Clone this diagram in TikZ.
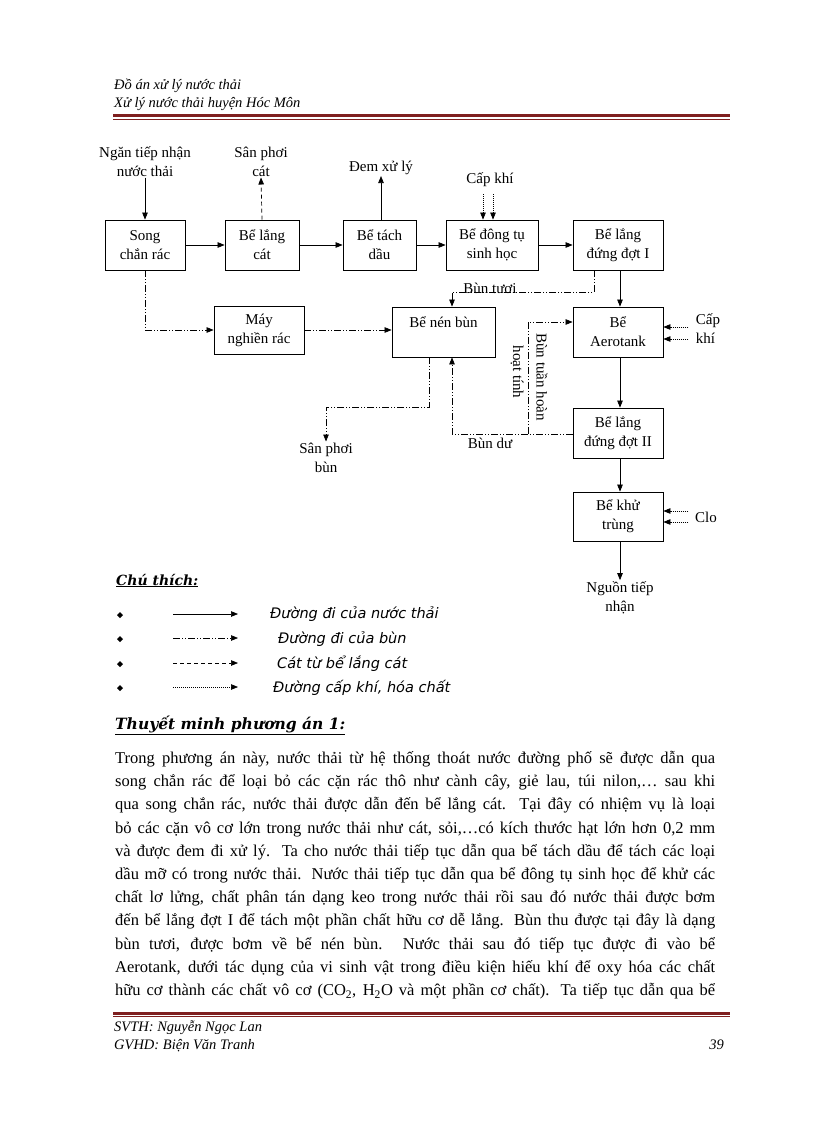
\documentclass[tikz,border=0pt]{standalone}
\usepackage{fontspec}
\setmainfont{Liberation Serif}
\newfontfamily\legfont{DejaVu Sans}
\newfontfamily\titfont{DejaVu Serif}
\usetikzlibrary{arrows.meta}
\definecolor{hdred}{HTML}{7F1F1F}
\newcommand\diagfont{\fontsize{15}{19}\selectfont}
\newcommand\hdfont{\fontsize{14.5}{18}\selectfont\itshape}
\newcommand\bodyfont{\fontsize{16.5}{23.2}\selectfont}
\newcommand\jline[1]{\makebox[600pt][s]{#1}}
\begin{document}
\begin{tikzpicture}[x=1pt,y=-1pt,
 box/.style={draw,line width=0.8pt,align=center,inner sep=0pt,font=\diagfont},
 lbl/.style={align=center,inner sep=1pt,font=\diagfont},
 tip/.style={-{Triangle[length=7pt,width=5.5pt]}},
 water/.style={tip,line width=0.7pt},
 sludge/.style={tip,line width=0.7pt,dash pattern=on 7pt off 2pt on 1pt off 2pt on 1pt off 2pt},
 sand/.style={tip,line width=0.7pt,dash pattern=on 4pt off 3pt},
 air/.style={tip,line width=0.7pt,dash pattern=on 1pt off 1pt},
 legtxt/.style={anchor=base west,inner sep=0pt,font=\fontsize{14.5}{17}\selectfont\legfont\itshape}]
\useasboundingbox (0,0) rectangle (816,1123);
\fill[white] (0,0) rectangle (816,1123);

% header
\node[anchor=base west,inner sep=0pt,font=\hdfont] (h1) at (114,90) {Đồ án xử lý nước thải};
\node[anchor=base west,inner sep=0pt,font=\hdfont] (h2) at (114,108) {Xử lý nước thải huyện Hóc Môn};
\draw[hdred,line width=3pt] (113,116) -- (730,116);
\draw[hdred,line width=0.8pt] (113,119.5) -- (730,119.5);

% boxes
\node[box,minimum width=80pt,minimum height=50pt] (song) at (145,245) {Song\\chắn rác};
\node[box,minimum width=74pt,minimum height=50pt] (lc) at (262,245) {Bể lắng\\cát};
\node[box,minimum width=73pt,minimum height=50pt] (td) at (379.5,245) {Bể tách\\dầu};
\node[box,minimum width=92pt,minimum height=50pt] (dt) at (492,245) {Bể đông tụ\\sinh học};
\node[box,minimum width=90pt,minimum height=50pt] (l1) at (618,245) {Bể lắng\\đứng đợt I};
\node[box,minimum width=90pt,minimum height=48pt] (may) at (259,330) {Máy\\nghiền rác};
\node[box,minimum width=103pt,minimum height=50pt] (nen) at (443.5,332) {Bể nén bùn\\\mbox{}};
\node[box,minimum width=90pt,minimum height=50pt] (aero) at (618,332) {Bể\\Aerotank};
\node[box,minimum width=90pt,minimum height=50pt] (l2) at (618,433) {Bể lắng\\đứng đợt II};
\node[box,minimum width=90pt,minimum height=49pt] (kt) at (618,516.5) {Bể khử\\trùng};

% labels
\node[lbl] (ntn) at (145,161.5) {Ngăn tiếp nhận\\nước thải};
\node[lbl] (spc) at (261,161.5) {Sân phơi\\cát};
\node[lbl] (dxl) at (381,168) {Đem xử lý};
\node[lbl] (ck1) at (490,180) {Cấp khí};
\node[lbl,align=left] (ck2) at (708,329) {Cấp\\khí};
\node[lbl] (clo) at (706,517) {Clo};
\node[lbl] (ngtn) at (620,597.5) {Nguồn tiếp\\nhận};
\node[lbl] (spb) at (326,457.5) {Sân phơi\\bùn};
\node[lbl] (btuoi) at (490,288) {Bùn tươi};
\node[lbl] (bdu) at (490,443) {Bùn dư};
\node[lbl,rotate=-90] (bth) at (542,377) {Bùn tuần hoàn};
\node[lbl,rotate=-90] (htinh) at (517,372) {hoạt tính};

% water path
\draw[water] (ntn.south) -- (song.north);
\draw[water] (song.east) -- (lc.west);
\draw[water] (lc.east) -- (td.west);
\draw[water] (td.east) -- (dt.west);
\draw[water] (dt.east) -- (l1.west);
\draw[water] ([xshift=2pt]l1.south) -- ([xshift=2pt]aero.north);
\draw[water] ([xshift=2pt]aero.south) -- ([xshift=2pt]l2.north);
\draw[water] ([xshift=2pt]l2.south) -- ([xshift=2pt]kt.north);
\draw[water] ([xshift=2pt]kt.south) -- (ngtn.north);
\draw[water] ([xshift=1.5pt]td.north) -- (dxl.south);

% sand
\draw[sand] (lc.north) -- (spc.south);

% air / chemicals
\draw[air] ([xshift=-7pt,yshift=-6pt]ck1.south) -- ([xshift=-9pt]dt.north);
\draw[air] ([xshift=3pt,yshift=-6pt]ck1.south) -- ([xshift=1pt]dt.north);
\draw[air] ([xshift=25pt,yshift=5pt]aero.east) -- ([yshift=5pt]aero.east);
\draw[air] ([xshift=25pt,yshift=-7pt]aero.east) -- ([yshift=-7pt]aero.east);
\draw[air] ([xshift=25pt,yshift=5.5pt]kt.east) -- ([yshift=5.5pt]kt.east);
\draw[air] ([xshift=25pt,yshift=-5.5pt]kt.east) -- ([yshift=-5.5pt]kt.east);

% sludge
\draw[sludge] (song.south) |- (may.west);
\draw[sludge] (may.east) -- (may.east -| nen.west);
\draw[sludge] ([xshift=-24pt]l1.south) -- ++(0,22) -| ([xshift=8.5pt]nen.north);
\draw[sludge] ([xshift=-14.5pt]nen.south) -- ++(0,50) -| (spb.north);
\draw[sludge] ([yshift=-1pt]l2.west) -| ([xshift=8.5pt]nen.south);
\coordinate (thc) at (528,434);
\draw[sludge] (thc) |- ([yshift=10pt]aero.west);

% legend
\node[anchor=base west,inner sep=0pt,font=\fontsize{14}{16}\selectfont\titfont\bfseries\itshape] (chuthich) at (116,585) {\underline{Chú thích:}};
\foreach \yy/\nm in {615/a,639/b,664/c,688/d}{
  \fill (120,\yy-3) -- (123,\yy) -- (120,\yy+3) -- (117,\yy) -- cycle;
  \coordinate (ls\nm) at (173,\yy-1);
  \coordinate (le\nm) at (238,\yy-1);
}
\draw[water] (lsa) -- (lea);
\draw[sludge] (lsb) -- (leb);
\draw[sand] (lsc) -- (lec);
\draw[air] (lsd) -- (led);
\node[legtxt] (lga) at (270,618) {Đường đi của nước thải};
\node[legtxt] (lgb) at (278,643) {Đường đi của bùn};
\node[legtxt] (lgc) at (277,668) {Cát từ bể lắng cát};
\node[legtxt] (lgd) at (273,692) {Đường cấp khí, hóa chất};

\node[anchor=base west,inner sep=0pt,font=\fontsize{15.5}{18}\selectfont\titfont\bfseries\itshape] (tm) at (115,729) {\underline{Thuyết minh phương án 1:}};

% body text
\node[anchor=north west,inner sep=0pt,align=left,font=\bodyfont] (body) at (115,751) {%
\jline{Trong phương án này, nước thải từ hệ thống thoát nước đường phố sẽ được dẫn qua}\\
\jline{song chắn rác để loại bỏ các cặn rác thô như cành cây, giẻ lau, túi nilon,…  sau khi}\\
\jline{qua song chắn rác, nước thải được dẫn đến bể lắng cát. Tại đây có nhiệm vụ là loại}\\
\jline{bỏ các cặn vô cơ lớn trong nước thải như cát, sỏi,…có kích thước hạt lớn hơn 0,2 mm}\\
\jline{và được đem đi xử lý. Ta cho nước thải tiếp tục dẫn qua bể tách dầu để tách các loại}\\
\jline{dầu mỡ có trong nước thải. Nước thải tiếp tục dẫn qua bể đông tụ sinh học để khử các}\\
\jline{chất lơ lửng, chất phân tán dạng keo trong nước thải rồi sau đó nước thải được bơm}\\
\jline{đến bể lắng đợt I để tách một phần chất hữu cơ dễ lắng. Bùn thu được tại đây là dạng}\\
\jline{bùn tươi, được bơm về bể nén bùn. Nước thải sau đó tiếp tục được đi vào bể}\\
\jline{Aerotank, dưới tác dụng của vi sinh vật trong điều kiện hiếu khí để oxy hóa các chất}\\
\jline{hữu cơ thành các chất vô cơ (CO\textsubscript{2}, H\textsubscript{2}O và một phần cơ chất). Ta tiếp tục dẫn qua bể}};

% footer
\draw[hdred,line width=3pt] (113,1013) -- (730,1013);
\draw[hdred,line width=0.8pt] (113,1016.5) -- (730,1016.5);
\node[anchor=base west,inner sep=0pt,font=\hdfont] (f1) at (114,1031) {SVTH: Nguyễn Ngọc Lan};
\node[anchor=base west,inner sep=0pt,font=\hdfont] (f2) at (114,1049) {GVHD: Biện Văn Tranh};
\node[anchor=base east,inner sep=0pt,font=\hdfont] (pg) at (724,1049) {39};
\end{tikzpicture}
\end{document}
